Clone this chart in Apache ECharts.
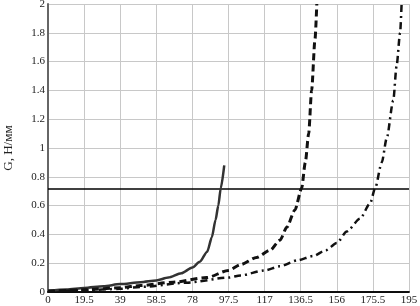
<!DOCTYPE html>
<html><head><meta charset="utf-8">
<script src="https://cdn.jsdelivr.net/npm/echarts@6/dist/echarts.min.js"></script>
<style>html,body{margin:0;padding:0;background:#fff}#c{width:420px;height:306px}</style>
</head><body><div id="c"></div>
<script>
const xTicks = [0,19.5,39,58.5,78,97.5,117,136.5,156,175.5,195];
const yTicks = [0,0.2,0.4,0.6,0.8,1,1.2,1.4,1.6,1.8,2];
const solid = [[0,0.01],[10,0.018],[19.5,0.028],[30,0.04],[39,0.055],[50,0.068],[58.5,0.08],[65,0.1],[72,0.13],[78,0.17],[82,0.21],[86,0.28],[88.5,0.38],[90.5,0.5],[92,0.6],[93.3,0.72],[95.2,0.88]];
const dashed = [[0,0.005],[19.5,0.015],[39,0.03],[50,0.045],[67.5,0.068],[85.7,0.1],[97.5,0.15],[104,0.19],[112.7,0.24],[120,0.29],[125.3,0.36],[129,0.45],[133.4,0.57],[137,0.72],[139,0.9],[140.8,1.1],[142.4,1.4],[144.2,1.75],[145.2,2.0]];
const dashDot = [[0,0.003],[19.5,0.012],[39,0.022],[50,0.035],[75,0.065],[97.5,0.1],[104,0.115],[117,0.15],[125.3,0.178],[134.7,0.22],[143.3,0.25],[150,0.29],[156,0.34],[161.4,0.42],[168.6,0.51],[174,0.615],[176.7,0.72],[180.3,0.9],[183,1.07],[186.5,1.33],[188.3,1.57],[190.2,1.8],[191,2.0]];
const limitValue = 0.715;
const yName = 'G, Н/мм';

const chart = echarts.init(document.getElementById('c'));
const font = 'Liberation Serif';
chart.setOption({
  animation: false,
  grid: {left: 48, right: 11, top: 4, bottom: 14, containLabel: false, outerBoundsMode: 'none'},
  xAxis: [{
    type: 'value', min: 0, max: 195, interval: 19.5,
    axisLine: {show: true, onZero: false, lineStyle: {color: '#000', width: 1.5}},
    axisTick: {show: false},
    axisLabel: {color: '#222', fontFamily: font, fontSize: 11, margin: 3,
      formatter: v => String(xTicks.find(t => Math.abs(t - v) < 1e-6) ?? '')},
    splitLine: {show: true, lineStyle: {color: '#c8c8c8', width: 1}}
  }, {
    type: 'value', position: 'top', min: 0, max: 195,
    axisLine: {show: true, lineStyle: {color: '#000', width: 1.5}},
    axisTick: {show: false}, axisLabel: {show: false}, splitLine: {show: false}
  }],
  yAxis: {
    type: 'value', min: 0, max: 2, interval: 0.2,
    name: yName, nameLocation: 'middle', nameGap: 33, nameRotate: 90,
    nameTextStyle: {color: '#222', fontFamily: font, fontSize: 13},
    axisLine: {show: true, onZero: false, lineStyle: {color: '#666', width: 2}},
    axisTick: {show: false},
    axisLabel: {color: '#222', fontFamily: font, fontSize: 11, margin: 3,
      formatter: v => String(yTicks.find(t => Math.abs(t - v) < 1e-6) ?? '')},
    splitLine: {show: true, lineStyle: {color: '#c8c8c8', width: 1}}
  },
  series: [
    {type: 'line', data: [[0, limitValue], [195, limitValue]], symbol: 'none',
      lineStyle: {color: '#000', width: 1.5}},
    {type: 'line', data: solid, symbol: 'none', smooth: 0.25, smoothMonotone: 'x',
      lineStyle: {color: '#333', width: 2.5}},
    {type: 'line', data: dashed, symbol: 'none', smooth: 0.25, smoothMonotone: 'x',
      lineStyle: {color: '#111', width: 3, type: [7, 4]}},
    {type: 'line', data: dashDot, symbol: 'none', smooth: 0.25, smoothMonotone: 'x',
      lineStyle: {color: '#111', width: 2.5, type: [7, 4, 2, 4]}}
  ]
});
</script></body></html>
